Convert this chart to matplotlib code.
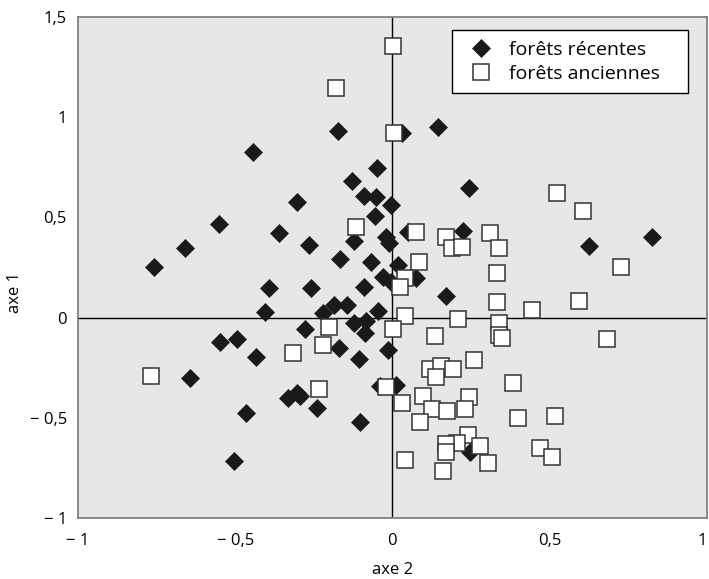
import matplotlib
matplotlib.use("Agg")
import matplotlib.pyplot as plt

plt.rcParams['font.family'] = ['Open Sans', 'DejaVu Sans']

# forêts récentes (axe 2, axe 1)
rec_x = [-0.172, 0.146, 0.032, -0.443, -0.048, -0.127, -0.092, -0.051, -0.003, -0.303,
         -0.057, -0.360, -0.121, -0.264, -0.022, -0.010, 0.048, -0.166, -0.067, 0.019,
         -0.029, -0.006, 0.076, -0.392, -0.258, -0.092, 0.169, -0.404, -0.185, -0.143,
         -0.220, -0.045, -0.277, -0.121, -0.083, -0.086, -0.169, -0.105, -0.013, 0.010,
         -0.038, -0.331, -0.303, -0.293, -0.239, -0.102, -0.548, -0.494, -0.433, -0.643,
         -0.465, -0.503, -0.758, -0.659, -0.551, 0.242, 0.226, 0.624, 0.825, 0.248]
rec_y = [0.931, 0.951, 0.921, 0.826, 0.746, 0.681, 0.606, 0.601, 0.561, 0.576,
         0.506, 0.422, 0.382, 0.362, 0.402, 0.372, 0.427, 0.292, 0.277, 0.262,
         0.202, 0.177, 0.197, 0.147, 0.147, 0.152, 0.107, 0.027, 0.062, 0.062,
         0.022, 0.032, -0.057, -0.027, -0.017, -0.077, -0.152, -0.207, -0.162, -0.337,
         -0.342, -0.402, -0.377, -0.392, -0.452, -0.521, -0.122, -0.107, -0.197, -0.302,
         -0.477, -0.716, 0.252, 0.347, 0.467, 0.646, 0.432, 0.357, 0.402, -0.671]

# forêts anciennes
anc_x = [0.003, -0.178, 0.006, -0.115, 0.076, 0.169, 0.188, 0.220, 0.309, 0.338,
         0.331, 0.331, 0.443, 0.083, 0.041, 0.025, 0.041, 0.207, 0.338, 0.338,
         0.350, 0.522, 0.605, 0.726, 0.592, 0.682, 0.258, 0.118, 0.156, 0.140,
         0.194, 0.385, -0.019, 0.032, 0.096, 0.127, 0.172, 0.245, 0.232, 0.089,
         0.398, 0.516, 0.239, 0.204, 0.169, 0.169, 0.277, 0.303, 0.468, 0.506,
         0.162, 0.041, 0.003, -0.201, -0.220, -0.315, 0.134, -0.232, -0.768]
anc_y = [1.355, 1.145, 0.921, 0.452, 0.427, 0.402, 0.347, 0.352, 0.422, 0.347,
         0.222, 0.077, 0.037, 0.277, 0.197, 0.152, 0.007, -0.007, -0.027, -0.087,
         -0.102, 0.621, 0.531, 0.252, 0.082, -0.107, -0.212, -0.257, -0.242, -0.297,
         -0.257, -0.327, -0.347, -0.427, -0.392, -0.457, -0.467, -0.397, -0.457, -0.521,
         -0.501, -0.492, -0.586, -0.626, -0.631, -0.671, -0.641, -0.726, -0.651, -0.696,
         -0.766, -0.711, -0.057, -0.047, -0.137, -0.177, -0.092, -0.357, -0.292]

xticks = [-1, -0.5, 0, 0.5, 1]
xlabels = ['− 1', '− 0,5', '0', '0,5', '1']
yticks = [-1, -0.5, 0, 0.5, 1, 1.5]
ylabels = ['− 1', '− 0,5', '0', '0,5', '1', '1,5']

fig = plt.figure(figsize=(7.09, 5.79), dpi=100)
ax = fig.add_axes([0.110, 0.1054, 0.887, 0.8652])
ax.set_facecolor('#e6e7e8')

ax.axhline(0, color='black', lw=1, zorder=1)
ax.axvline(0, color='black', lw=1, zorder=1)

ax.plot(rec_x, rec_y, 'D', ms=8.7, color='#1a1a1a', mec='#1a1a1a', mew=0.5,
        label='forêts récentes', zorder=2)
ax.plot(anc_x, anc_y, 's', ms=11.2, mfc='white', mec='#333333', mew=1.1,
        label='forêts anciennes', zorder=3)

ax.set_xlim(-1, 1)
ax.set_ylim(-1, 1.5)
ax.set_xticks(xticks)
ax.set_xticklabels(xlabels)
ax.set_yticks(yticks)
ax.set_yticklabels(ylabels)
ax.tick_params(length=0, labelsize=12)
ax.tick_params(axis='x', pad=11)
ax.tick_params(axis='y', pad=8)
ax.get_xticklabels()[-1].set_horizontalalignment('right')
for s in ax.spines.values():
    s.set_color('#808080')
    s.set_linewidth(1.3)

ax.set_xlabel('axe 2', fontsize=12)
ax.set_ylabel('axe 1', fontsize=12)
ax.xaxis.set_label_coords(0.5, -0.088)
ax.yaxis.set_label_coords(-0.088, 0.45)

leg = ax.legend(loc='upper left', bbox_to_anchor=(0.5946, 0.0, 0.3752, 0.974),
                mode='expand', borderaxespad=0,
                fancybox=False, framealpha=1, edgecolor='black', fontsize=14,
                handlelength=1.9, handletextpad=0.5, borderpad=0.55, labelspacing=0.3)
leg.get_frame().set_linewidth(1)

fig.savefig('out.png', dpi=100)
